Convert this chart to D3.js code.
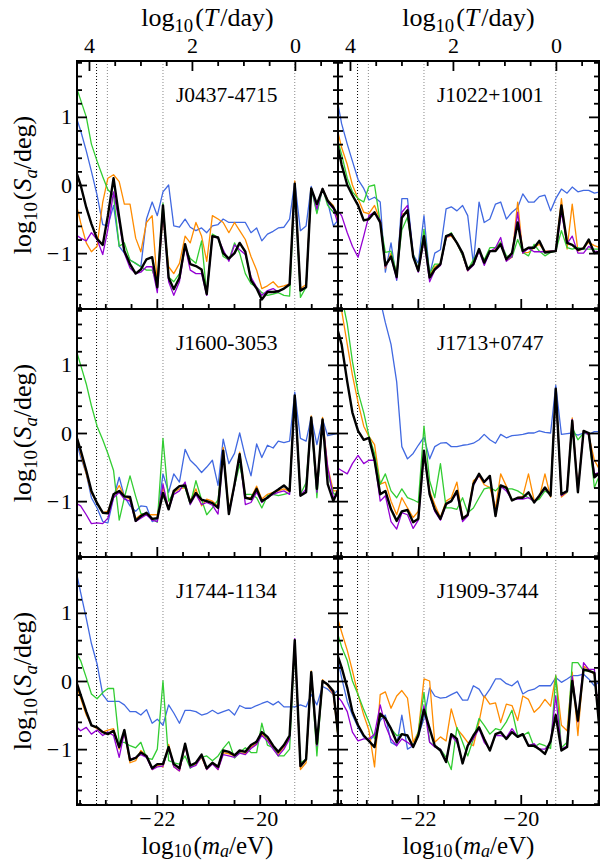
<!DOCTYPE html>
<html>
<head>
<meta charset="utf-8">
<script src="https://cdn.jsdelivr.net/npm/d3@7"></script>
<style>
body { margin: 0; background: #fff; }
text { font-family: "Liberation Serif", "Times New Roman", serif; fill: #000; }
</style>
</head>
<body>
<div id="chart"></div>
<script>
// log10(m_a/eV) sample points shared by every curve
const logMass = [-23.59, -23.48, -23.37, -23.27, -23.16, -23.05, -22.95, -22.84, -22.73, -22.63,
  -22.52, -22.41, -22.31, -22.20, -22.09, -21.99, -21.88, -21.77, -21.67, -21.56,
  -21.45, -21.35, -21.24, -21.13, -21.03, -20.92, -20.81, -20.71, -20.60, -20.49,
  -20.39, -20.28, -20.17, -20.06, -19.96, -19.85, -19.74, -19.64, -19.53, -19.42,
  -19.32, -19.21, -19.10, -19.00, -18.89, -18.78, -18.68, -18.57, -18.46];

const pulsars = ["J0437-4715", "J1022+1001", "J1600-3053", "J1713+0747", "J1744-1134", "J1909-3744"];
const seriesColors = ["#4169e1", "#ff8c00", "#32cd32", "#9400d3", "#000000"];

// log10(S_a/deg), one array per pulsar and curve
const J0437_blue = [1.05,0.8,0.5,0.2,-0.15,-0.58,-0.6,-0.3,-0.9,-1.0,-1.1,-1.15,-1.2,-0.5,-0.25,-0.45,-0.1,0.0,-0.6,-0.62,-0.5,-0.62,-0.67,-0.63,-0.7,-0.6,-0.58,-0.5,-0.55,-0.55,-0.55,-0.55,-0.7,-0.63,-0.82,-0.72,-0.68,-0.63,-0.62,-0.5,0.05,-0.67,-0.6,-0.02,-0.4,-0.05,-0.25,-0.6,-0.5];
const J0437_orange = [-0.2,-0.55,-0.85,-0.98,-0.9,-0.25,0.1,0.15,0.05,-0.28,-0.28,-0.78,-0.98,-0.55,-0.45,-1.45,-0.45,-1.2,-1.3,-1.15,-0.75,-0.85,-0.55,-0.75,-1.12,-0.45,-0.5,-0.55,-0.7,-0.55,-0.67,-0.8,-1.05,-1.25,-1.52,-1.48,-1.42,-1.5,-1.48,-1.45,0.06,-1.52,-1.46,-0.05,-0.3,-0.05,-0.22,-0.3,-0.6];
const J0437_green = [1.5,1.25,1.0,0.6,0.35,0.12,-0.07,-0.15,-0.9,-0.85,-1.1,-1.15,-1.2,-1.25,-1.25,-1.45,-0.27,-1.35,-1.42,-1.3,-0.92,-1.08,-1.15,-0.82,-1.6,-0.72,-0.77,-1.05,-1.1,-0.85,-1.0,-1.3,-1.45,-1.5,-1.58,-1.62,-1.6,-1.58,-1.62,-1.63,0.0,-1.65,-1.5,-0.05,-0.42,-0.05,-0.3,-0.4,-0.45];
const J0437_purple = [-0.72,-0.78,-0.82,-0.7,-0.8,-1.02,-0.65,-0.1,-0.55,-1.0,-1.22,-1.3,-1.28,-1.2,-1.2,-1.58,-0.35,-1.42,-1.62,-1.42,-0.9,-1.25,-1.3,-1.3,-1.62,-0.75,-0.78,-0.95,-1.12,-0.88,-0.95,-1.02,-1.35,-1.5,-1.62,-1.55,-1.52,-1.57,-1.52,-1.45,0.02,-1.55,-1.5,-0.05,-0.35,-0.05,-0.25,-0.35,-0.62];
const J0437_black = [0.25,0.0,-0.33,-0.57,-0.79,-0.88,-0.45,0.1,-0.48,-0.97,-1.16,-1.3,-1.24,-1.09,-1.06,-1.5,-0.3,-1.36,-1.53,-1.36,-0.87,-1.16,-1.19,-1.24,-1.6,-0.75,-0.77,-1.0,-1.08,-1.0,-0.85,-0.98,-1.4,-1.52,-1.68,-1.57,-1.57,-1.56,-1.52,-1.46,0.02,-1.55,-1.5,-0.05,-0.28,-0.06,-0.23,-0.33,-0.48];

const J1022_blue = [1.35,0.9,0.6,0.35,0.08,-0.05,-0.22,-0.18,-0.25,-1.28,-0.85,-1.4,-0.2,-0.2,-1.02,-1.15,-0.45,-1.32,-1.0,-0.95,-0.35,-0.32,-0.38,-0.3,-0.45,-1.16,-0.25,-0.55,-0.5,-0.28,-0.25,-0.5,-0.4,-0.33,-0.13,-0.25,-0.25,-0.17,-0.15,-0.38,-0.2,-0.06,-0.12,-0.03,-0.1,-0.08,-0.08,-0.12,-0.1];
const J1022_orange = [0.9,0.55,0.3,0.0,-0.2,-0.4,-0.42,-0.3,-0.52,-1.22,-1.0,-1.32,-0.43,-0.4,-1.05,-1.24,-0.8,-1.33,-1.2,-1.15,-0.77,-0.75,-0.85,-1.03,-1.26,-1.16,-0.96,-1.15,-0.97,-0.95,-0.84,-1.11,-1.06,-0.25,-1.0,-0.99,-0.92,-0.87,-0.97,-0.97,-0.97,-0.2,-0.94,-0.28,-0.97,-0.92,-0.84,-0.89,-0.92];
const J1022_green = [0.75,0.45,0.1,-0.1,-0.2,-0.25,-0.02,0.0,-0.55,-0.99,-0.97,-1.3,-0.66,-0.47,-1.02,-1.24,-0.65,-1.3,-1.16,-1.16,-0.77,-0.7,-0.85,-1.04,-1.24,-1.1,-0.96,-1.1,-0.92,-0.92,-0.84,-1.04,-1.06,-0.8,-0.99,-1.04,-0.87,-0.97,-1.04,-0.99,-0.97,-0.67,-0.92,-0.94,-0.92,-0.94,-0.94,-0.94,-0.94];
const J1022_purple = [-0.35,-0.45,-0.7,-0.9,-1.06,-0.75,-0.45,-0.4,-0.52,-1.2,-1.05,-1.38,-0.4,-0.3,-1.05,-1.28,-0.8,-1.42,-1.25,-1.18,-0.77,-0.73,-0.85,-1.02,-1.26,-1.18,-0.97,-1.18,-0.98,-0.92,-0.77,-1.12,-1.05,-0.4,-1.0,-0.93,-0.98,-0.98,-0.98,-0.97,-0.97,-0.4,-0.86,-0.75,-1.0,-1.0,-0.9,-0.97,-0.98];
const J1022_black = [0.7,0.3,0.0,-0.15,-0.3,-0.52,-0.5,-0.4,-0.55,-1.18,-1.05,-1.35,-0.48,-0.37,-1.05,-1.26,-0.75,-1.36,-1.24,-1.16,-0.75,-0.72,-0.85,-1.0,-1.24,-1.16,-0.94,-1.14,-0.97,-0.97,-0.87,-1.09,-1.0,-0.55,-0.97,-0.92,-0.92,-0.82,-0.99,-0.98,-0.97,-0.3,-0.85,-0.88,-0.95,-0.93,-0.8,-1.0,-0.98];

const J1600_blue = [-0.05,-0.35,-0.6,-0.95,-1.1,-1.3,-1.32,-0.95,-0.65,-0.93,-1.07,-1.15,-1.07,-1.08,-1.3,-1.26,-0.6,-0.87,-0.6,-0.72,-0.24,-0.4,-0.48,-0.58,-0.5,-0.4,-0.77,-0.09,-0.45,-0.3,0.0,-0.35,-0.63,-0.16,-0.36,-0.18,-0.22,-0.12,-0.14,-0.12,0.6,-0.08,-0.12,0.23,-0.17,0.2,-0.04,-0.02,0.0];
const J1600_orange = [0.08,-0.3,-0.6,-0.88,-1.02,-1.17,-1.15,-0.92,-0.77,-0.93,-0.97,-1.26,-1.2,-1.2,-1.2,-1.2,-0.8,-1.1,-0.87,-0.82,-0.8,-0.99,-0.82,-1.07,-0.97,-1.0,-1.07,-0.21,-1.14,-0.75,-0.28,-0.95,-0.95,-0.78,-0.97,-0.9,-0.87,-0.85,-0.82,-0.86,0.52,-0.9,-0.87,0.25,-0.82,0.23,-0.5,-0.85,-0.85];
const J1600_green = [1.28,1.0,0.72,0.4,0.1,-0.1,-0.3,-0.55,-1.28,-0.95,-0.63,-0.93,-1.18,-1.2,-1.26,-1.31,-0.08,-1.0,-0.87,-0.78,-0.8,-1.05,-0.7,-0.98,-1.2,-1.1,-0.98,-0.3,-1.16,-0.78,-0.46,-0.9,-0.9,-0.95,-1.1,-0.92,-0.9,-0.92,-0.9,-0.88,0.55,-0.9,-0.73,0.2,-0.95,0.18,-0.6,-0.88,-0.95];
const J1600_purple = [-1.02,-1.07,-1.2,-1.33,-1.32,-1.33,-1.25,-0.95,-0.87,-0.97,-1.0,-1.3,-1.25,-1.2,-1.28,-1.3,-0.75,-1.12,-0.9,-0.85,-0.72,-1.05,-0.9,-1.05,-1.02,-1.06,-1.19,-0.3,-1.19,-0.78,-0.33,-1.05,-1.02,-0.87,-1.02,-0.94,-0.9,-0.87,-0.85,-0.9,0.55,-0.92,-0.82,0.2,-0.87,0.18,-0.5,-0.95,-0.9];
const J1600_black = [0.02,-0.25,-0.55,-0.85,-1.03,-1.17,-1.18,-0.9,-0.85,-0.93,-0.94,-1.29,-1.22,-1.17,-1.26,-1.25,-0.88,-1.12,-0.85,-0.78,-0.77,-1.02,-0.88,-0.98,-1.0,-1.03,-1.1,-0.26,-1.19,-0.75,-0.31,-0.95,-0.97,-0.82,-1.0,-0.95,-0.88,-0.83,-0.77,-0.85,0.55,-0.92,-0.87,0.23,-0.82,0.2,-0.75,-1.0,-0.8];

const J1713_blue = [4.0,3.6,3.3,3.0,2.8,2.6,2.4,2.2,1.95,1.62,1.3,0.75,-0.2,-0.38,-0.3,-0.18,-0.06,-0.38,-0.2,-0.15,-0.14,-0.2,-0.2,-0.18,-0.17,-0.15,-0.1,-0.02,-0.1,-0.15,-0.02,-0.07,-0.04,-0.03,-0.02,0.0,0.0,0.03,0.01,0.0,0.7,-0.02,-0.01,0.0,-0.03,0.0,-0.02,0.02,0.02];
const J1713_orange = [2.2,1.8,1.3,0.85,0.45,0.1,-0.05,-0.17,-0.75,-0.72,-1.0,-1.2,-0.95,-1.1,-1.24,-1.15,-0.3,-0.85,-1.05,-1.24,-1.0,-0.95,-0.72,-1.24,-1.2,-0.7,-0.63,-0.76,-0.8,-1.1,-0.6,-0.78,-0.99,-0.95,-0.93,-0.6,-0.99,-0.95,-0.6,-0.94,0.62,-0.94,-0.87,0.22,-0.84,0.03,-0.03,-0.4,-0.55];
const J1713_green = [2.4,2.0,1.6,1.05,0.6,0.3,-0.04,-0.3,-0.75,-0.6,-0.85,-0.95,-0.82,-0.95,-0.98,-1.02,0.1,-0.7,-0.95,-0.45,-1.1,-1.1,-1.12,-0.95,-1.17,-1.1,-0.95,-0.82,-0.8,-0.85,-0.77,-0.82,-0.82,-0.85,-0.9,-0.95,-1.0,-0.97,-0.85,-0.9,0.62,-0.9,-0.87,0.08,-0.1,0.0,0.0,-0.8,-0.6];
const J1713_purple = [-0.5,-0.55,-0.6,-0.45,-0.33,-0.45,-0.4,-0.4,-1.0,-0.92,-1.3,-1.41,-1.17,-1.2,-1.4,-1.28,-0.3,-0.9,-1.15,-1.28,-1.05,-1.0,-0.88,-1.3,-1.22,-0.77,-0.62,-0.72,-0.65,-1.2,-0.78,-0.85,-0.98,-0.97,-0.97,-0.95,-1.0,-0.93,-0.82,-0.9,0.63,-0.92,-0.86,0.2,-0.86,0.02,-0.02,-0.6,-0.58];
const J1713_black = [1.6,1.3,0.75,0.3,0.03,-0.1,-0.07,-0.4,-0.9,-0.85,-1.12,-1.29,-1.15,-1.13,-1.31,-1.26,-0.26,-0.9,-1.12,-1.26,-1.04,-1.0,-0.85,-1.26,-1.2,-0.75,-0.6,-0.72,-0.63,-1.22,-0.77,-0.8,-0.99,-0.95,-0.95,-0.87,-1.02,-0.92,-0.8,-0.92,0.65,-0.9,-0.85,0.18,-0.87,0.03,0.0,-0.65,-0.58];

const J1744_blue = [1.7,1.3,0.92,0.55,0.25,-0.2,-0.3,-0.3,-0.3,-0.35,-0.45,-0.45,-0.5,-0.42,-0.62,-0.56,-0.65,-0.35,-0.47,-0.62,-0.43,-0.43,-0.45,-0.5,-0.48,-0.43,-0.48,-0.45,-0.42,-0.5,-0.36,-0.4,-0.4,-0.36,-0.33,-0.3,-0.35,-0.3,-0.38,-0.38,-0.38,-0.35,-0.38,-0.2,-0.35,-0.08,-0.12,-0.2,-0.12];
const J1744_orange = [0.0,-0.25,-0.5,-0.65,-0.7,-0.75,-0.72,-0.7,-1.0,-0.75,-1.2,-1.17,-1.02,-1.1,-1.3,-1.24,-1.26,-0.93,-1.26,-1.32,-0.95,-1.25,-1.22,-1.12,-1.3,-1.2,-1.3,-1.05,-1.07,-1.1,-1.05,-1.07,-0.97,-0.92,-0.78,-0.85,-0.98,-1.07,-0.97,-0.83,0.58,-1.3,-1.2,0.15,-1.0,0.02,-0.07,-0.2,-0.95];
const J1744_green = [0.45,0.3,0.05,-0.19,-0.26,-0.17,-0.11,-0.11,-0.9,-0.9,-0.95,-0.98,-0.9,-1.13,-1.15,-1.0,0.0,-1.17,-1.2,-1.22,-1.1,-1.28,-1.2,-1.12,-1.1,-1.17,-1.1,-0.99,-0.89,-1.13,-1.05,-0.98,-1.05,-1.05,-0.62,-0.94,-0.98,-1.1,-1.1,-1.0,0.55,-1.2,-1.15,0.13,-1.1,0.0,-0.05,-0.15,-0.95];
const J1744_purple = [-0.65,-0.73,-0.68,-0.78,-0.72,-0.8,-0.75,-0.8,-1.12,-0.75,-1.15,-1.12,-1.08,-1.12,-1.3,-1.26,-1.25,-0.98,-1.26,-1.32,-0.95,-1.27,-1.24,-1.1,-1.3,-1.22,-1.3,-1.08,-1.1,-1.12,-1.06,-1.08,-0.99,-0.93,-0.8,-0.88,-1.0,-1.1,-1.0,-0.85,0.62,-1.25,-1.15,0.12,-0.95,0.0,-0.05,-0.18,-0.85];
const J1744_black = [0.05,-0.2,-0.45,-0.65,-0.68,-0.75,-0.78,-0.73,-0.97,-0.72,-1.16,-1.13,-1.05,-1.1,-1.28,-1.22,-1.22,-0.97,-1.22,-1.28,-0.92,-1.24,-1.2,-1.08,-1.28,-1.2,-1.26,-1.02,-1.04,-1.09,-1.02,-1.04,-0.94,-0.89,-0.75,-0.82,-0.95,-1.04,-0.94,-0.8,0.6,-1.25,-1.15,0.13,-0.92,0.0,-0.05,-0.15,-0.9];

const J1909_blue = [0.45,0.05,-0.3,-0.5,-0.68,-0.82,-0.88,-0.8,-0.58,-0.5,-0.9,-0.95,-0.5,-1.0,-0.95,-0.8,-0.55,-0.1,-0.22,-0.25,-0.24,-0.2,-0.16,-0.28,-0.28,-0.07,-0.12,-0.24,-0.12,0.03,0.03,-0.04,-0.07,0.0,-0.19,-0.14,-0.12,-0.07,-0.07,-0.07,0.05,-0.02,0.03,0.08,0.08,0.1,0.03,-0.07,0.0];
const J1909_orange = [1.0,0.72,0.45,0.15,-0.2,-0.5,-0.72,-1.26,-0.2,-0.16,-0.4,-0.22,-0.14,-0.25,-0.9,-0.75,0.03,0.0,-0.9,-0.82,-0.88,-0.41,-0.7,-0.8,-0.9,-0.95,-0.6,-0.22,-0.34,-0.32,-0.61,-0.34,-0.36,-0.58,-0.22,-0.27,-0.46,-0.39,-0.27,-0.37,0.08,-0.65,-0.73,0.13,-0.8,0.22,0.17,0.1,-0.7];
const J1909_green = [0.78,0.5,0.3,0.0,-0.2,-0.42,-0.6,-0.85,-0.52,-0.54,-0.7,-0.8,-0.78,-0.8,-0.97,-0.75,-0.17,-0.9,-0.95,-1.0,-1.12,-1.3,-0.68,-0.9,-1.1,-0.85,-0.55,-0.65,-0.78,-0.7,-0.72,-0.6,-0.43,-0.8,-0.8,-0.75,-0.97,-0.92,-0.95,-0.99,0.08,-0.98,-0.9,0.27,0.27,0.15,0.15,0.12,-0.8];
const J1909_purple = [-0.2,-0.3,-0.45,-0.75,-0.88,-0.85,-0.85,-0.78,-0.35,-0.65,-0.85,-0.95,-0.85,-0.9,-0.97,-0.8,-0.36,-0.9,-0.97,-1.0,-1.19,-0.8,-0.9,-1.19,-0.95,-0.85,-0.7,-0.9,-1.0,-0.8,-0.8,-0.83,-0.7,-0.82,-0.78,-0.95,-0.92,-1.0,-1.0,-0.9,-0.22,-1.0,-0.95,0.07,-0.6,0.27,0.17,0.17,-0.75];
const J1909_black = [0.45,0.2,-0.1,-0.45,-0.65,-0.8,-0.88,-0.97,-0.48,-0.55,-0.7,-0.9,-0.78,-0.8,-0.97,-0.8,-0.42,-0.7,-0.95,-1.02,-1.19,-0.78,-0.85,-1.21,-0.95,-0.8,-0.68,-0.85,-1.02,-0.78,-0.75,-0.85,-0.75,-0.82,-0.78,-0.95,-0.95,-1.0,-1.07,-0.88,-0.5,-1.02,-0.97,0.0,-0.58,0.17,0.15,0.12,-0.8];

// tick values and marker lines
const yMajor = [-1, 0, 1];
const massMajor = [-22, -20];
const periodMajor = [4, 2, 0];
const markerLines = [-23.17, -22.96, -21.88, -19.32];
const dayMass = -19.3175; // log10(m_a/eV) where T = 1 day

const panels = [
  {name: pulsars[0], series: [J0437_blue, J0437_orange, J0437_green, J0437_purple, J0437_black]},
  {name: pulsars[1], series: [J1022_blue, J1022_orange, J1022_green, J1022_purple, J1022_black]},
  {name: pulsars[2], series: [J1600_blue, J1600_orange, J1600_green, J1600_purple, J1600_black]},
  {name: pulsars[3], series: [J1713_blue, J1713_orange, J1713_green, J1713_purple, J1713_black]},
  {name: pulsars[4], series: [J1744_blue, J1744_orange, J1744_green, J1744_purple, J1744_black]},
  {name: pulsars[5], series: [J1909_blue, J1909_orange, J1909_green, J1909_purple, J1909_black]}
];

var left0 = 77, top0 = 61, panelW = 261, panelH = 248;
var majorLen = 10, minorLen = 5;
var tickFont = 22, titleFont = 26;

var x = d3.scaleLinear().domain([-23.55, -18.48]).range([0, panelW]);
var y = d3.scaleLinear().domain([-1.82, 1.82]).range([panelH, 0]);
var t = d3.scaleLinear().domain([dayMass + 23.55, dayMass + 18.48]).range([0, panelW]);

var yMinor = d3.range(-18, 19, 2).map(d => d / 10).filter(d => !yMajor.includes(d));
var massMinor = d3.range(-23.5, -18.4, 0.5).filter(d => !massMajor.includes(d));
var periodMinor = d3.range(-0.5, 4.3, 0.5).filter(d => !periodMajor.includes(d));

// minus sign with a little gap, like the original labels
var fmtNum = d => (d < 0 ? "\u2212\u200a" : "") + Math.abs(d);

var svg = d3.select("#chart").append("svg")
    .attr("width", 607)
    .attr("height", 863);

svg.append("defs").append("clipPath").attr("id", "clip")
    .append("rect").attr("width", panelW).attr("height", panelH);

// write "log10(...)" style labels with subscripts
function mathText(sel, parts, size, subShift) {
    var dyPrev = 0;
    parts.forEach(function(p) {
        var ts = sel.append("tspan").text(p.t);
        var shift = p.sub ? subShift : 0;
        ts.attr("dy", shift - dyPrev);
        dyPrev = shift;
        if (p.sub) ts.style("font-size", (size * 0.72) + "px");
        if (p.it) ts.style("font-style", "italic");
        if (p.dx) ts.attr("dx", p.dx);
    });
}

var line = d3.line()
    .x((d, i) => x(logMass[i]))
    .y(d => y(d));

panels.forEach(function(p, i) {
    var col = i % 2, row = Math.floor(i / 2);
    var g = svg.append("g")
        .attr("transform", "translate(" + (left0 + col * panelW) + "," + (top0 + row * panelH) + ")");

    // dotted marker lines
    g.selectAll(".marker")
        .data(markerLines)
        .enter().append("line")
        .attr("x1", d => x(d)).attr("x2", d => x(d))
        .attr("y1", 0).attr("y2", panelH)
        .attr("stroke", (d, j) => j == 0 ? "#000" : "#888")
        .attr("stroke-width", 1)
        .attr("stroke-dasharray", "1,2");

    // curves
    var curves = g.append("g").attr("clip-path", "url(#clip)");
    p.series.forEach(function(s, j) {
        curves.append("path")
            .datum(s)
            .attr("d", line)
            .attr("fill", "none")
            .attr("stroke", seriesColors[j])
            .attr("stroke-width", j == 4 ? 2.4 : 1.3)
            .attr("stroke-linejoin", "round");
    });

    // ticks, all pointing inwards
    function ax(axis, tr, vals, len, fmt, pad) {
        var a = g.append("g").attr("transform", tr)
            .call(axis.tickValues(vals).tickSize(-len).tickSizeOuter(0).tickFormat(fmt).tickPadding(pad));
        a.select(".domain").remove();
        a.selectAll(".tick line").attr("stroke-width", 1.8);
        a.selectAll("text").style("font-size", tickFont + "px").style("font-family", null);
        return a;
    }
    ax(d3.axisLeft(y), null, yMinor, minorLen, "", 0);
    ax(d3.axisLeft(y), null, yMajor, majorLen, col == 0 ? fmtNum : "", 5);
    ax(d3.axisRight(y), "translate(" + panelW + ",0)", yMinor, minorLen, "", 0);
    ax(d3.axisRight(y), "translate(" + panelW + ",0)", yMajor, majorLen, "", 0);
    ax(d3.axisBottom(x), "translate(0," + panelH + ")", massMinor, minorLen, "", 0);
    ax(d3.axisBottom(x), "translate(0," + panelH + ")", massMajor, majorLen, row == 2 ? fmtNum : "", 5);
    if (row == 0) {
        ax(d3.axisTop(t), null, periodMinor, minorLen, "", 0);
        ax(d3.axisTop(t), null, periodMajor, majorLen, fmtNum, 8);
    }

    // frame
    g.append("rect")
        .attr("width", panelW).attr("height", panelH)
        .attr("fill", "none").attr("stroke", "#000").attr("stroke-width", 2);

    // pulsar name
    g.append("text")
        .attr("x", 99).attr("y", 41)
        .style("font-size", "21.5px")
        .text(p.name);

    // axis titles
    if (row == 0) {
        svg.append("text")
            .attr("x", left0 + col * panelW + panelW / 2).attr("y", 26)
            .attr("text-anchor", "middle").style("font-size", titleFont + "px")
            .call(mathText, [{t: "log"}, {t: "10", sub: true}, {t: "(", dx: 2}, {t: "T", it: true}, {t: "/", dx: 2}, {t: "day)"}], titleFont, 6);
    }
    if (row == 2) {
        svg.append("text")
            .attr("x", left0 + col * panelW + panelW / 2).attr("y", 854)
            .attr("text-anchor", "middle").style("font-size", "25px")
            .call(mathText, [{t: "log"}, {t: "10", sub: true}, {t: "(", dx: 2}, {t: "m", it: true}, {t: "a", it: true, sub: true}, {t: "/eV)"}], 25, 3);
    }
    if (col == 0) {
        svg.append("text")
            .attr("transform", "translate(31," + (top0 + row * panelH + panelH / 2) + ") rotate(-90)")
            .attr("text-anchor", "middle").style("font-size", titleFont + "px")
            .call(mathText, [{t: "log"}, {t: "10", sub: true}, {t: "(", dx: 2}, {t: "S", it: true}, {t: "a", it: true, sub: true}, {t: "/deg)"}], titleFont, 6);
    }
});
</script>
</body>
</html>
